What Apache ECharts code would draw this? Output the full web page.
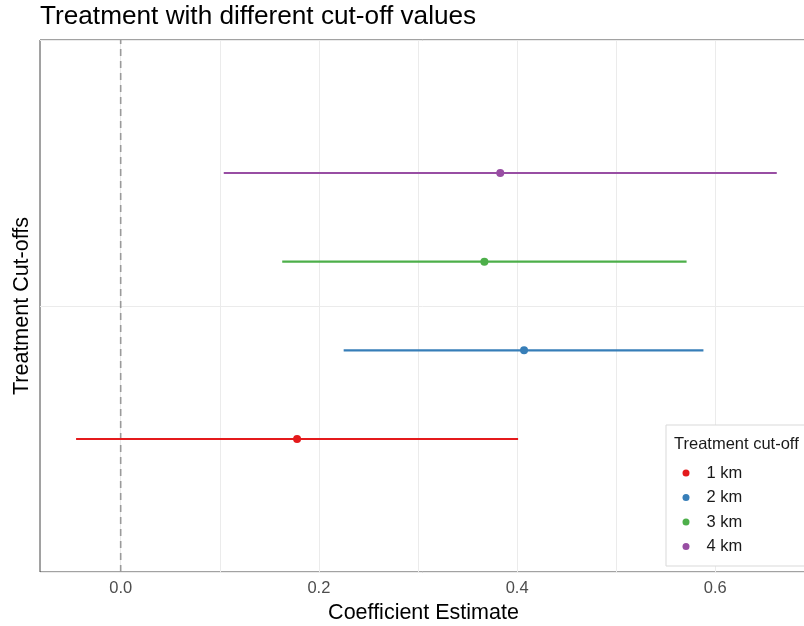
<!DOCTYPE html>
<html>
<head>
<meta charset="utf-8">
<script src="https://cdn.jsdelivr.net/npm/echarts@6/dist/echarts.min.js"></script>
<style>
  html, body { margin: 0; padding: 0; background: #ffffff; }
  #chart { width: 804px; height: 626px; }
</style>
</head>
<body>
<div id="chart"></div>
<script>
// Coefficient estimates with their confidence bounds, one row per cut-off
const cutoffs = ['1 km', '2 km', '3 km', '4 km'];
const estimates = [0.178, 0.407, 0.367, 0.383];
const lowerBounds = [-0.045, 0.225, 0.163, 0.104];
const upperBounds = [0.401, 0.588, 0.571, 0.662];
// dodged vertical slot of each cut-off around the single category
const dodgeSlots = [-1.5, -0.5, 0.5, 1.5];

// x axis labels and vertical grid lines
const xTickValues = [0, 0.2, 0.4, 0.6];
const xGridValues = [0, 0.1, 0.2, 0.3, 0.4, 0.5, 0.6];

const palette = ['#E41A1C', '#377EB8', '#4DAF4A', '#984EA3'];
const FONT = '"Liberation Sans", Arial, Helvetica, sans-serif';

const chart = echarts.init(document.getElementById('chart'), null, { renderer: 'canvas' });

const series = [];

// reference line at zero, carrying the vertical grid lines behind it
series.push({
  name: 'zero',
  type: 'line',
  data: [[0, -3], [0, 3]],
  symbol: 'none',
  silent: true,
  z: 3,
  lineStyle: { color: '#9a9a9a', width: 1.6, type: [7, 5] },
  markLine: {
    silent: true,
    symbol: 'none',
    label: { show: false },
    z: 1,
    lineStyle: { color: '#ebebeb', width: 1, type: 'solid' },
    data: xGridValues.map(v => ({ xAxis: v }))
  }
});

cutoffs.forEach((name, i) => {
  const y = dodgeSlots[i];
  series.push({
    name: name,
    type: 'scatter',
    data: [[estimates[i], y]],
    symbol: 'circle',
    symbolSize: 8,
    z: 6,
    itemStyle: { color: palette[i], opacity: 1 }
  });
  series.push({
    name: name,
    type: 'line',
    data: [[lowerBounds[i], y], [upperBounds[i], y]],
    symbol: 'none',
    z: 5,
    itemStyle: { color: palette[i] },
    lineStyle: { color: palette[i], width: 2.2, opacity: 1 }
  });
});

chart.setOption({
  backgroundColor: '#ffffff',
  animation: false,
  textStyle: { fontFamily: FONT },
  title: [
    {
      text: 'Treatment with different cut-off values',
      left: 40, top: 4, padding: 0,
      textStyle: { fontFamily: FONT, fontSize: 26.2, fontWeight: 'normal', color: '#000000' }
    },
    {
      text: 'Treatment cut-off',
      left: 674, top: 436, padding: 0, z: 10,
      textStyle: { fontFamily: FONT, fontSize: 16.5, fontWeight: 'normal', color: '#1a1a1a' }
    }
  ],
  legend: {
    orient: 'vertical',
    left: 666, top: 425,
    padding: [38, 120, 9.5, 16.5],
    backgroundColor: '#ffffff',
    borderColor: '#d9d9d9',
    borderWidth: 1,
    itemWidth: 7,
    itemHeight: 7,
    itemGap: 4.5,
    selectedMode: false,
    data: cutoffs.map(n => ({ name: n, icon: 'circle' })),
    textStyle: {
      fontFamily: FONT, fontSize: 16.5, lineHeight: 20, color: '#1a1a1a',
      padding: [0, 0, 0, 12]
    }
  },
  grid: {
    left: 40, top: 40, right: -3, bottom: 54,
    outerBoundsMode: 'none',
    containLabel: false,
    show: true,
    borderColor: '#444444',
    borderWidth: 1,
    backgroundColor: 'transparent'
  },
  xAxis: {
    type: 'value',
    min: -0.0814,
    max: 0.6925,
    name: 'Coefficient Estimate',
    nameLocation: 'middle',
    nameGap: 27,
    nameTextStyle: { fontFamily: FONT, fontSize: 21.5, color: '#000000' },
    axisLine: { show: false },
    axisTick: { show: false },
    splitLine: { show: false },
    axisLabel: {
      customValues: xTickValues,
      margin: 8,
      fontFamily: FONT,
      fontSize: 16.5,
      color: '#4d4d4d',
      formatter: v => v.toFixed(1)
    }
  },
  yAxis: {
    type: 'value',
    min: -3, max: 3, interval: 3,
    name: 'Treatment Cut-offs',
    nameLocation: 'middle',
    nameGap: 6.5,
    nameTextStyle: { fontFamily: FONT, fontSize: 21.5, color: '#000000' },
    axisLine: { show: false },
    axisTick: { show: false },
    axisLabel: { show: false },
    splitLine: { show: true, lineStyle: { color: '#ebebeb', width: 1 } }
  },
  series: series
});
</script>
</body>
</html>
